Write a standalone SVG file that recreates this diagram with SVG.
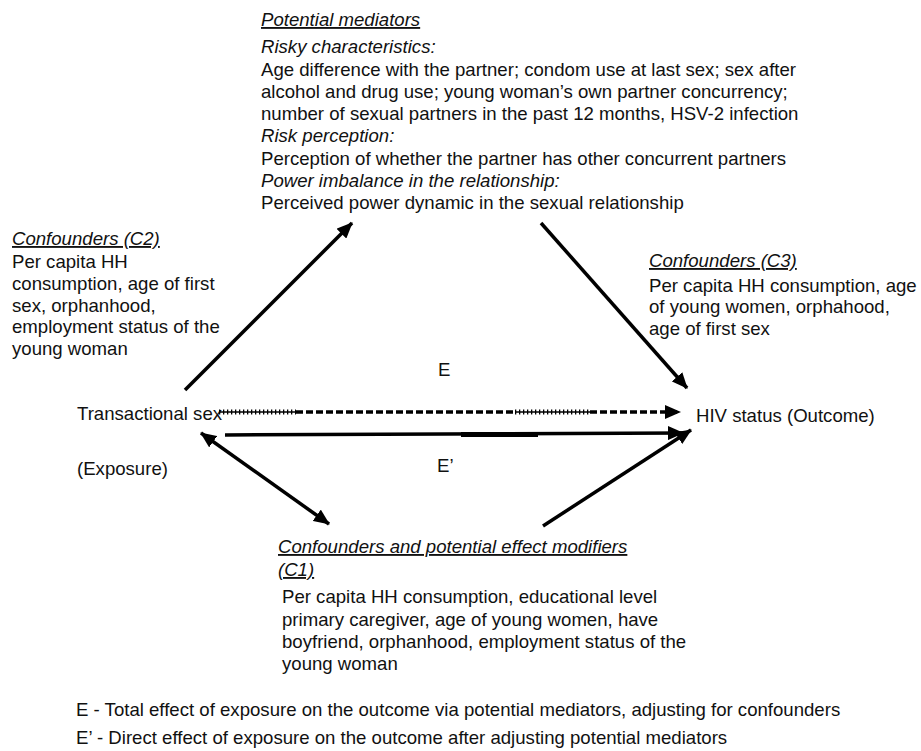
<svg xmlns="http://www.w3.org/2000/svg" width="921" height="751" viewBox="0 0 921 751">
<style>
text{font-family:"Liberation Sans",Arial,sans-serif;font-size:18.6px;fill:#111}
.h{font-style:italic;text-decoration:underline}
.i{font-style:italic}
.ln{stroke:#000;stroke-width:3.5;fill:none}
.ds{stroke:#000;stroke-width:3.5;fill:none;stroke-dasharray:7 3}
.ht{stroke:#000;stroke-width:1.6;fill:none}
.hk{stroke:#000;stroke-width:5;fill:none;stroke-dasharray:1.3 2.7}
</style>
<defs>
<marker id="ah" markerUnits="userSpaceOnUse" markerWidth="16" markerHeight="14" refX="15" refY="7" orient="auto">
<path d="M0,0 L16,7 L0,14 Z" fill="#000"/>
</marker>
<marker id="as" markerUnits="userSpaceOnUse" markerWidth="16" markerHeight="14" refX="1" refY="7" orient="auto">
<path d="M16,0 L0,7 L16,14 Z" fill="#000"/>
</marker>
</defs>
<rect width="921" height="751" fill="#fff"/>

<g id="mediators">
<text x="261" y="26" class="h">Potential mediators</text>
<text x="261" y="53" class="i">Risky characteristics:</text>
<text x="261" y="76">Age difference with the partner; condom use at last sex; sex after</text>
<text x="261" y="98">alcohol and drug use; young woman’s own partner concurrency;</text>
<text x="261" y="120">number of sexual partners in the past 12 months, HSV-2 infection</text>
<text x="261" y="142" class="i">Risk perception:</text>
<text x="261" y="165">Perception of whether the partner has other concurrent partners</text>
<text x="261" y="187" class="i">Power imbalance in the relationship:</text>
<text x="261" y="209">Perceived power dynamic in the sexual relationship</text>
</g>

<g id="c2">
<text x="12" y="245" class="h">Confounders (C2)</text>
<text x="12" y="268">Per capita HH</text>
<text x="12" y="290">consumption, age of first</text>
<text x="12" y="312">sex, orphanhood,</text>
<text x="12" y="333">employment status of the</text>
<text x="12" y="355">young woman</text>
</g>

<g id="c3">
<text x="649" y="267" class="h">Confounders (C3)</text>
<text x="649" y="292">Per capita HH consumption, age</text>
<text x="649" y="313">of young women, orphahood,</text>
<text x="649" y="335">age of first sex</text>
</g>

<g id="exposure">
<text x="77" y="420">Transactional sex</text>
<text x="77" y="475">(Exposure)</text>
</g>

<g id="outcome">
<text x="696" y="422">HIV status (Outcome)</text>
</g>

<g id="c1">
<text x="278" y="553" class="h">Confounders and potential effect modifiers</text>
<text x="278" y="576" class="h">(C1)</text>
<text x="282" y="603">Per capita HH consumption, educational level</text>
<text x="282" y="626">primary caregiver, age of young women, have</text>
<text x="282" y="648">boyfriend, orphanhood, employment status of the</text>
<text x="282" y="670">young woman</text>
</g>

<g id="labels">
<text x="438" y="376">E</text>
<text x="437" y="472">E’</text>
</g>

<g id="legend">
<text x="76" y="716">E - Total effect of exposure on the outcome via potential mediators, adjusting for confounders</text>
<text x="76" y="744">E’ - Direct effect of exposure on the outcome after adjusting potential mediators</text>
</g>

<g id="connectors">
<line class="ln" x1="185" y1="390" x2="352" y2="223" marker-end="url(#ah)"/>
<line class="ln" x1="541" y1="223" x2="687" y2="388" marker-end="url(#ah)"/>
<line class="ht" x1="219" y1="412" x2="296" y2="412"/>
<line class="hk" x1="219" y1="412" x2="296" y2="412"/>
<line class="ds" x1="296" y1="412" x2="515" y2="412"/>
<line class="ht" x1="515" y1="412" x2="590" y2="412"/>
<line class="hk" x1="515" y1="412" x2="590" y2="412"/>
<line class="ds" x1="590" y1="412" x2="680" y2="412" marker-end="url(#ah)"/>
<line class="ln" x1="225" y1="435" x2="683" y2="433" marker-end="url(#ah)"/>
<rect x="461" y="432" width="77" height="5" fill="#000"/>
<line class="ln" x1="201" y1="433" x2="329" y2="524" marker-start="url(#as)" marker-end="url(#ah)"/>
<line class="ln" x1="543" y1="526" x2="691" y2="430" marker-end="url(#ah)"/>
</g>
</svg>
